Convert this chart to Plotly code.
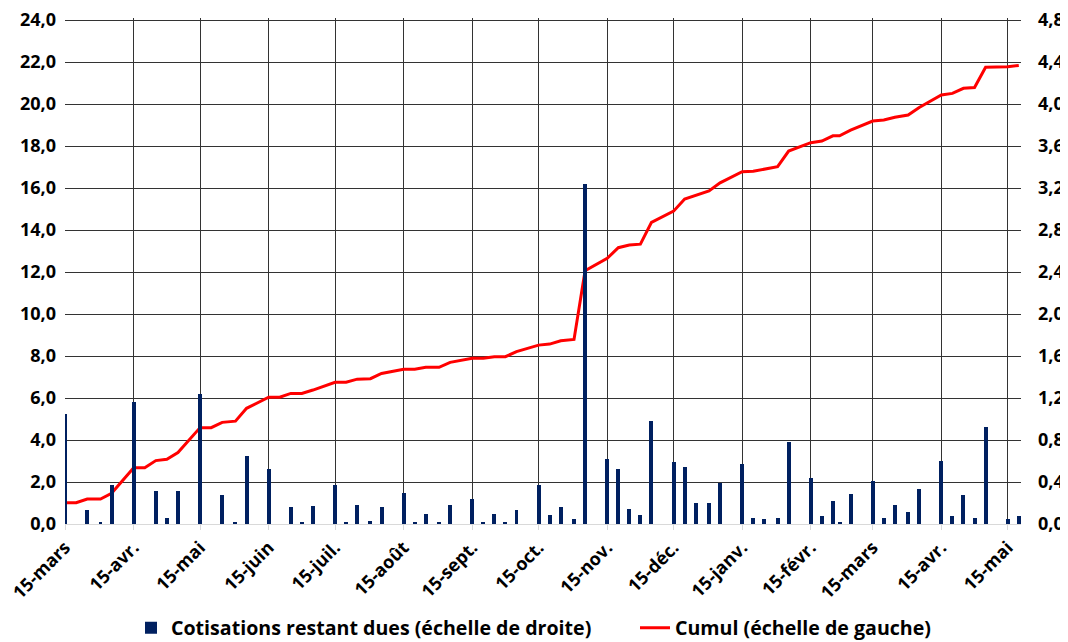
import plotly.graph_objects as go

# ---- data ----
dates = [
    "2020-03-15", "2020-03-20", "2020-03-25", "2020-03-31",
    "2020-04-05", "2020-04-15", "2020-04-20", "2020-04-25", "2020-04-30",
    "2020-05-05", "2020-05-15", "2020-05-20", "2020-05-25", "2020-05-31",
    "2020-06-05", "2020-06-15", "2020-06-20", "2020-06-25", "2020-06-30",
    "2020-07-05", "2020-07-15", "2020-07-20", "2020-07-25", "2020-07-31",
    "2020-08-05", "2020-08-15", "2020-08-20", "2020-08-25", "2020-08-31",
    "2020-09-05", "2020-09-15", "2020-09-20", "2020-09-25", "2020-09-30",
    "2020-10-05", "2020-10-15", "2020-10-20", "2020-10-25", "2020-10-31",
    "2020-11-05", "2020-11-15", "2020-11-20", "2020-11-25", "2020-11-30",
    "2020-12-05", "2020-12-15", "2020-12-20", "2020-12-25", "2020-12-31",
    "2021-01-05", "2021-01-15", "2021-01-20", "2021-01-25", "2021-01-31",
    "2021-02-05", "2021-02-15", "2021-02-20", "2021-02-25", "2021-02-28",
    "2021-03-05", "2021-03-15", "2021-03-20", "2021-03-25", "2021-03-31",
    "2021-04-05", "2021-04-15", "2021-04-20", "2021-04-25", "2021-04-30",
    "2021-05-05", "2021-05-15", "2021-05-20",
]

cotisations_dues = [  # right axis
    1.05, 0.00, 0.13, 0.01,
    0.37, 1.16, 0.00, 0.31, 0.06,
    0.31, 1.24, 0.00, 0.28, 0.01,
    0.65, 0.52, 0.00, 0.16, 0.01,
    0.17, 0.37, 0.01, 0.18, 0.03,
    0.16, 0.30, 0.01, 0.10, 0.01,
    0.18, 0.24, 0.01, 0.10, 0.01,
    0.13, 0.37, 0.09, 0.16, 0.05,
    3.24, 0.62, 0.52, 0.14, 0.09,
    0.98, 0.59, 0.54, 0.20, 0.20,
    0.39, 0.57, 0.06, 0.05, 0.06,
    0.78, 0.44, 0.08, 0.22, 0.01,
    0.29, 0.41, 0.06, 0.18, 0.11,
    0.33, 0.60, 0.08, 0.28, 0.06,
    0.92, 0.05, 0.08,
]

cumul = [  # left axis
    1.01, 1.01, 1.19, 1.19,
    1.46, 2.68, 2.68, 3.02, 3.08,
    3.40, 4.59, 4.59, 4.84, 4.90,
    5.51, 6.04, 6.04, 6.22, 6.22,
    6.38, 6.75, 6.75, 6.90, 6.92,
    7.17, 7.37, 7.37, 7.46, 7.46,
    7.70, 7.89, 7.89, 7.97, 7.97,
    8.21, 8.52, 8.57, 8.73, 8.79,
    12.06, 12.65, 13.16, 13.29, 13.33,
    14.37, 14.90, 15.48, 15.67, 15.86,
    16.25, 16.78, 16.80, 16.90, 17.02,
    17.76, 18.16, 18.24, 18.49, 18.49,
    18.76, 19.19, 19.24, 19.37, 19.48,
    19.84, 20.43, 20.51, 20.75, 20.79,
    21.75, 21.78, 21.84,
]

tick_dates = [
    "2020-03-15", "2020-04-15", "2020-05-15", "2020-06-15", "2020-07-15",
    "2020-08-15", "2020-09-15", "2020-10-15", "2020-11-15", "2020-12-15",
    "2021-01-15", "2021-02-15", "2021-03-15", "2021-04-15", "2021-05-15",
]
tick_labels = [
    "15-mars", "15-avr.", "15-mai", "15-juin", "15-juil.",
    "15-août", "15-sept.", "15-oct.", "15-nov.", "15-déc.",
    "15-janv.", "15-févr.", "15-mars", "15-avr.", "15-mai",
]

left_ticks = [0, 2, 4, 6, 8, 10, 12, 14, 16, 18, 20, 22, 24]
right_ticks = [0, 0.4, 0.8, 1.2, 1.6, 2.0, 2.4, 2.8, 3.2, 3.6, 4.0, 4.4, 4.8]

series_names = ["Cotisations restant dues (échelle de droite)", "Cumul (échelle de gauche)"]

# ---- styling ----
NAVY = "#002060"
RED = "#FF0000"
GRID = "#333333"
FAMILY = "Open Sans, Liberation Sans, sans-serif"
FONT = dict(family=FAMILY, size=18, color="#000000", weight="bold")
LEG_FONT = dict(family=FAMILY, size=19.6, color="#000000", weight="bold")
DAY_MS = 86400000

# the page body has an 8px default margin, so the figure is sized to fit inside it
W, H = 1060, 634

fig = go.Figure()

fig.add_trace(go.Scatter(
    x=dates, y=cumul, name=series_names[1], mode="lines",
    line=dict(color=RED, width=3), yaxis="y", legend="legend2",
))
fig.add_trace(go.Bar(
    x=dates, y=cotisations_dues, name=series_names[0],
    marker=dict(color=NAVY, line=dict(width=0)),
    width=[1.8 * DAY_MS] * len(dates), yaxis="y2", legend="legend",
))

legend_common = dict(
    orientation="h", yref="container", y=1 - 620 / H, yanchor="middle",
    xref="container", xanchor="left", font=LEG_FONT,
    bgcolor="rgba(0,0,0,0)", borderwidth=0,
)

fig.update_layout(
    width=W, height=H,
    margin=dict(l=57, r=47, t=10, b=118, autoexpand=False),
    paper_bgcolor="white", plot_bgcolor="white",
    separators=", ",
    font=FONT,
    showlegend=True,
    legend=dict(x=123 / W, **legend_common),
    legend2=dict(x=627 / W, **legend_common),
    xaxis=dict(
        type="date", range=["2020-03-14 23:00", "2021-05-21"],
        tickmode="array", tickvals=tick_dates, ticktext=tick_labels,
        tickangle=-45, tickfont=FONT, automargin=False, ticklabeloverflow="allow",
        showgrid=True, gridcolor=GRID, gridwidth=1,
        showline=True, linecolor="#d9d9d9", linewidth=1,
        ticks="outside", ticklen=5, tickcolor="#d9d9d9",
        zeroline=False,
    ),
    yaxis=dict(
        range=[0, 24.1], tickmode="array", tickvals=left_ticks, tickformat=".1f",
        tickfont=FONT, showgrid=True, gridcolor=GRID, gridwidth=1,
        zeroline=True, zerolinecolor="#d9d9d9", zerolinewidth=1,
        showline=False, ticks="", ticklabelstandoff=8, automargin=False,
        ticklabeloverflow="allow",
    ),
    yaxis2=dict(
        range=[0, 4.82], tickmode="array", tickvals=right_ticks, tickformat=".1f",
        tickfont=FONT, overlaying="y", side="right", showgrid=False,
        zeroline=False, showline=False, ticks="", ticklabelstandoff=16,
        automargin=False, ticklabeloverflow="allow",
    ),
    bargap=0,
)

fig.write_html("out.html")
